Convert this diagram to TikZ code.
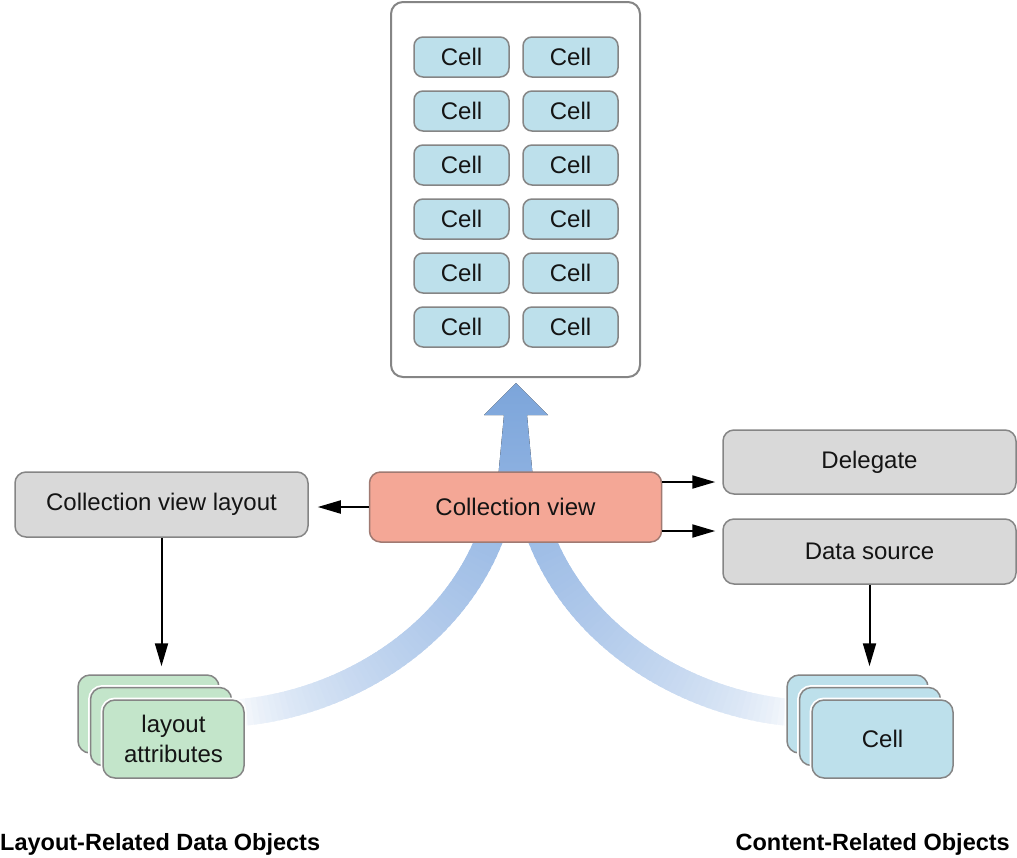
\documentclass[tikz,border=0pt]{standalone}
\usepackage{fontspec}
\setmainfont{Liberation Sans}
\usetikzlibrary{arrows.meta}
\definecolor{bordergray}{HTML}{858585}
\definecolor{boxgray}{HTML}{D9D9D9}
\definecolor{cellblue}{HTML}{BDE0EB}
\definecolor{attrgreen}{HTML}{C3E5CA}
\definecolor{cvsalmon}{HTML}{F4A796}
\definecolor{cvborder}{HTML}{A07A72}
\definecolor{streamblue}{HTML}{94B6E3}
\definecolor{arrowtop}{HTML}{7CA5DA}
\definecolor{arrowbot}{HTML}{90B3E2}
\definecolor{textblack}{HTML}{141414}
\tikzset{
  basebox/.style={font=\fontsize{24pt}{30pt}\selectfont, text=textblack, inner sep=0pt,
    line width=1.5pt, rounded corners=11pt, align=center},
  graybox/.style={basebox, draw=bordergray, fill=boxgray, minimum width=293pt, minimum height=65pt},
  cellbox/.style={basebox, draw=bordergray, fill=cellblue, minimum width=95pt, minimum height=40pt, rounded corners=9pt},
  cvbox/.style={basebox, draw=cvborder, fill=cvsalmon, minimum width=292pt, minimum height=70pt},
  stackbox/.style={basebox, draw=bordergray, minimum width=141pt, minimum height=78pt, rounded corners=12pt,
    preaction={draw=white, line width=5pt}},
  container/.style={draw=bordergray, fill=white, line width=2pt, rounded corners=12pt,
    minimum width=249pt, minimum height=375pt, inner sep=0pt},
  conn/.style={line width=2pt, draw=black, -{Triangle[length=23pt,width=13pt]}},
  caption/.style={font=\bfseries\fontsize{23.5pt}{28pt}\selectfont, text=black, inner sep=0pt},
}
\begin{document}
\begin{tikzpicture}[x=1pt,y=-1pt]
\useasboundingbox (0,0) rectangle (1017,857);
% flow streams
\foreach \i in {0,...,59}{
  \pgfmathsetmacro\ta{\i/60}
  \pgfmathsetmacro\tb{min(1,(\i+1.7)/60)}
  \pgfmathsetmacro\pct{100*(\ta)^0.6}
  \path (235,713) .. controls (350,705) and (485,625) .. (505,480)
     coordinate[pos=\ta] (sa) coordinate[pos=\tb] (sb);
  \draw[line width=27pt, color=streamblue!\pct!white] (sa) -- (sb);
  \path (796,713) .. controls (681,705) and (546,625) .. (526,480)
     coordinate[pos=\ta] (ra) coordinate[pos=\tb] (rb);
  \draw[line width=27pt, color=streamblue!\pct!white] (ra) -- (rb);
}
\fill[top color=arrowtop, bottom color=arrowbot]
  (516,383) -- (548,415) -- (527,415) -- (535,500) -- (496,500) -- (504,415) -- (484,415) -- cycle;
% container with cells
\node[container] (cont) at (515.5,189.5) {};
\foreach \r in {0,...,5}{
  \node[cellbox] (c\r a) at (461.5,{57+54*\r}) {Cell};
  \node[cellbox] (c\r b) at (570.5,{57+54*\r}) {Cell};
}
% main boxes
\node[cvbox] (cv) at (515.5,507) {Collection view};
\node[graybox] (layout) at (161.5,504.5) {Collection view layout};
\node[graybox, minimum height=64pt] (delegate) at (869.5,462) {Delegate};
\node[graybox] (datasource) at (869.5,551.5) {Data source};
% stacked layout attributes
\node[stackbox, fill=attrgreen] (laback) at (148.5,714) {};
\node[stackbox, fill=attrgreen] (lamid) at (161,726.5) {};
\node[stackbox, fill=attrgreen] (la) at (173.5,739) {layout\\attributes};
% stacked cells
\node[stackbox, fill=cellblue] (cellback) at (857.5,714) {};
\node[stackbox, fill=cellblue] (cellmid) at (870,726.5) {};
\node[stackbox, fill=cellblue] (cellfront) at (882.5,739) {Cell};
% connectors
\draw[conn, shorten >=9pt] (cv.west) -- (cv.west -| layout.east);
\draw[conn, shorten >=7pt] ([yshift=25pt]cv.east) -- ([yshift=25pt]cv.east -| delegate.west);
\draw[conn, shorten >=7pt] ([yshift=-24pt]cv.east) -- ([yshift=-24pt]cv.east -| datasource.west);
\draw[conn, shorten >=8pt] (layout.south) -- (layout.south |- laback.north);
\draw[conn, shorten >=8pt] (datasource.south) -- (datasource.south |- cellback.north);
% captions
\node[caption, anchor=base west] (caplayout) at (0,850) {Layout-Related Data Objects};
\node[caption, anchor=base east] (capcontent) at (1010,850) {Content-Related Objects};
\end{tikzpicture}
\end{document}
